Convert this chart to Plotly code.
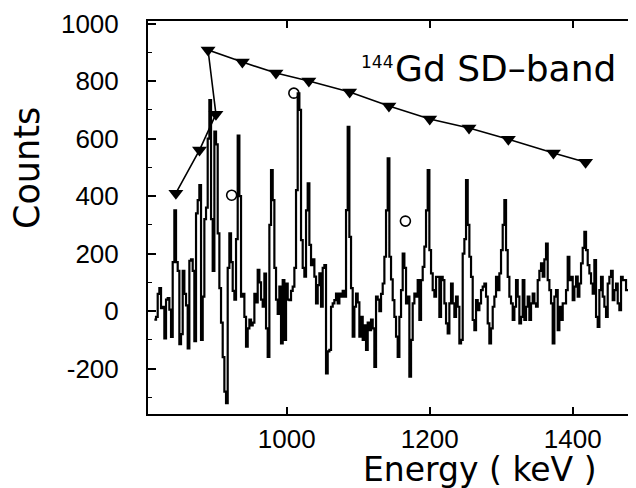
import plotly.graph_objects as go

# ---- data ----
# gamma spectrum (counts per bin), bins start at E_START keV with width BIN_KEV
E_START = 814.9
BIN_KEV = 2.331
counts = [
    # 815 - 945 keV
    -30, -20, 60, 80, 10, 15, -95, 40, 45, 5, -90, 170, 350, 170, 140, -115, -80, 140, 60, 20,
    -130, 175, 180, 140, -105, 340, 386, 438, -100, 50, 320, 360, 600, 734, 320, 140, 624, 580, 270, 80,
    -40, -160, -280, -320, 150, 270, 170, 70, 40, 250, 610, 400, 50, 60, -20, -124,
    # 945 - 1080 keV
    -60, -30, -50, -40, 60, 30, 143, 100, 40, 15, 130, -60, -159, 300, 490, 386, 150, 40, -10, 85,
    -112, 108, -100, 96, 40, 38, 70, 85, 150, 421, 757, 700, 247, 150, 120, 350, 444, 230, 160, 180,
    120, 27, 90, 131, 15, 150, 160, -217, -140, -135, 15, 27, 38, 61, 27, 61, 50, 70,
    # 1080 - 1215 keV
    50, 351, 641, 258, 80, -89, 15, 61, 30, -89, -20, -100, -50, -135, -40, -66, -30, -60, -194, 50,
    40, 0, 60, 96, 189, 350, 531, 189, 110, 38, -20, -89, -159, -20, 73, 200, 150, 27, 50, -228,
    -100, 27, 61, 50, 108, -31, 108, 154, 224, 350, 490, 212, 131, 73, 50, 119, 119, -20,
    # 1215 - 1350 keV
    119, 108, 27, -43, -78, 27, 96, 27, -20, 50, 15, -112, -100, 200, 250, 456, 300, 189, 119, -31,
    -66, 38, 3, 27, 73, 85, 96, 50, -43, -112, -60, 15, 50, 119, 73, 131, 212, 300, 386, 212,
    119, 50, 27, -31, 15, 108, 50, -43, -20, 108, -31, 15, 50, -31, 27, 61, 27, 15,
    # 1350 - 1485 keV
    108, 140, 166, 120, 180, 235, 108, 73, 27, -112, 50, 73, -66, 15, -31, 27, 27, 73, 189, 108,
    119, 38, 85, 120, 50, 96, 166, 220, 276, 212, 160, 131, 96, 61, 177, -20, -55, 73, 119, 50,
    15, -20, 96, 119, 140, 38, 73, 96, 27, 3, 119, 108, 108, 73, 73, 27, 61, 15,
]

# SD-band intensity profile (triangles), in drawing order
band_energy = [845, 878, 901, 890, 938, 985, 1031, 1088, 1143, 1200, 1255, 1310, 1373, 1418]
band_height = [410, 560, 685, 908, 866, 828, 800, 762, 713, 668, 637, 598, 550, 518]

# contaminant lines (open circles)
circle_energy = [923, 1010, 1166]
circle_height = [403, 758, 313]

x_ticks = [1000, 1200, 1400]
y_ticks = [-200, 0, 200, 400, 600, 800, 1000]
y_tick_labels = ["-200", "0", "200", "400", "600", "800", "1000"]

# ---- figure ----
edges = [E_START + i * BIN_KEV for i in range(len(counts) + 1)]
step_y = counts + [counts[-1]]

fig = go.Figure()
fig.add_trace(go.Scatter(
    x=edges, y=step_y, mode="lines", line=dict(shape="hv", color="black", width=2.2),
    hoverinfo="skip", showlegend=False))
fig.add_trace(go.Scatter(
    x=band_energy, y=band_height, mode="lines+markers",
    line=dict(color="black", width=1.6),
    marker=dict(symbol="triangle-down", size=13, color="black"),
    showlegend=False))
fig.add_trace(go.Scatter(
    x=circle_energy, y=circle_height, mode="markers",
    marker=dict(symbol="circle-open", size=10, color="black", line=dict(width=1.6)),
    showlegend=False))
# invisible trace for the right-hand tick axis
fig.add_trace(go.Scatter(x=[1000], y=[0], yaxis="y2", mode="markers",
                         marker=dict(opacity=0), hoverinfo="skip", showlegend=False))

tick_font = dict(family="Liberation Sans, Arial", size=26, color="black")
title_font = "DejaVu Sans"
# the page body has an 8 px margin, so the figure is 8 px smaller than the window
fig.update_layout(
    width=628, height=480,
    margin=dict(l=140, r=0, t=13, b=74, autoexpand=False),
    paper_bgcolor="white", plot_bgcolor="white",
    xaxis=dict(range=[806, 1488.5], tickvals=x_ticks, ticks="inside", ticklen=7,
               tickwidth=1.5, tickcolor="black", showline=True, linecolor="black",
               linewidth=2, mirror="ticks", showgrid=False, zeroline=False,
               tickfont=tick_font, ticklabelstandoff=1, automargin=False),
    yaxis=dict(range=[-358, 1009], tickvals=y_ticks, ticktext=y_tick_labels,
               ticks="inside", ticklen=8,
               tickwidth=1.5, tickcolor="black", showline=True, linecolor="black",
               linewidth=2, showgrid=False, zeroline=False, tickfont=tick_font,
               ticklabelstandoff=22, automargin=False,
               minor=dict(dtick=100, tick0=0, ticks="inside", ticklen=4,
                          tickcolor="black", tickwidth=1)),
    yaxis2=dict(range=[-358, 1009], overlaying="y", side="right", tickvals=y_ticks,
                ticks="inside", ticklen=6, tickwidth=1.5, tickcolor="black",
                showticklabels=False, showline=False, showgrid=False, zeroline=False,
                automargin=False,
                minor=dict(dtick=100, tick0=0, ticks="inside", ticklen=3,
                           tickcolor="black", tickwidth=1)),
    annotations=[
        dict(text="144", x=(377 - 148) / 488, y=(414 - 62) / 393, xref="paper",
             yref="paper", xanchor="center", yanchor="middle", showarrow=False,
             font=dict(family=title_font, size=17, color="black")),
        dict(text="Gd SD\u2013band", x=(393 - 148) / 488, y=(414 - 68) / 393,
             xref="paper", yref="paper", xanchor="left", yanchor="middle",
             showarrow=False, font=dict(family=title_font, size=36, color="black")),
        dict(text="Energy ( keV )", x=(480 - 148) / 488, y=(414 - 469) / 393,
             xref="paper", yref="paper", xanchor="center", yanchor="middle",
             showarrow=False, font=dict(family=title_font, size=33, color="black")),
        dict(text="Counts", x=(27 - 148) / 488, y=(414 - 168) / 393, xref="paper",
             yref="paper", xanchor="center", yanchor="middle", textangle=-90,
             showarrow=False, font=dict(family=title_font, size=35, color="black")),
    ],
)

fig.write_html("out.html")
